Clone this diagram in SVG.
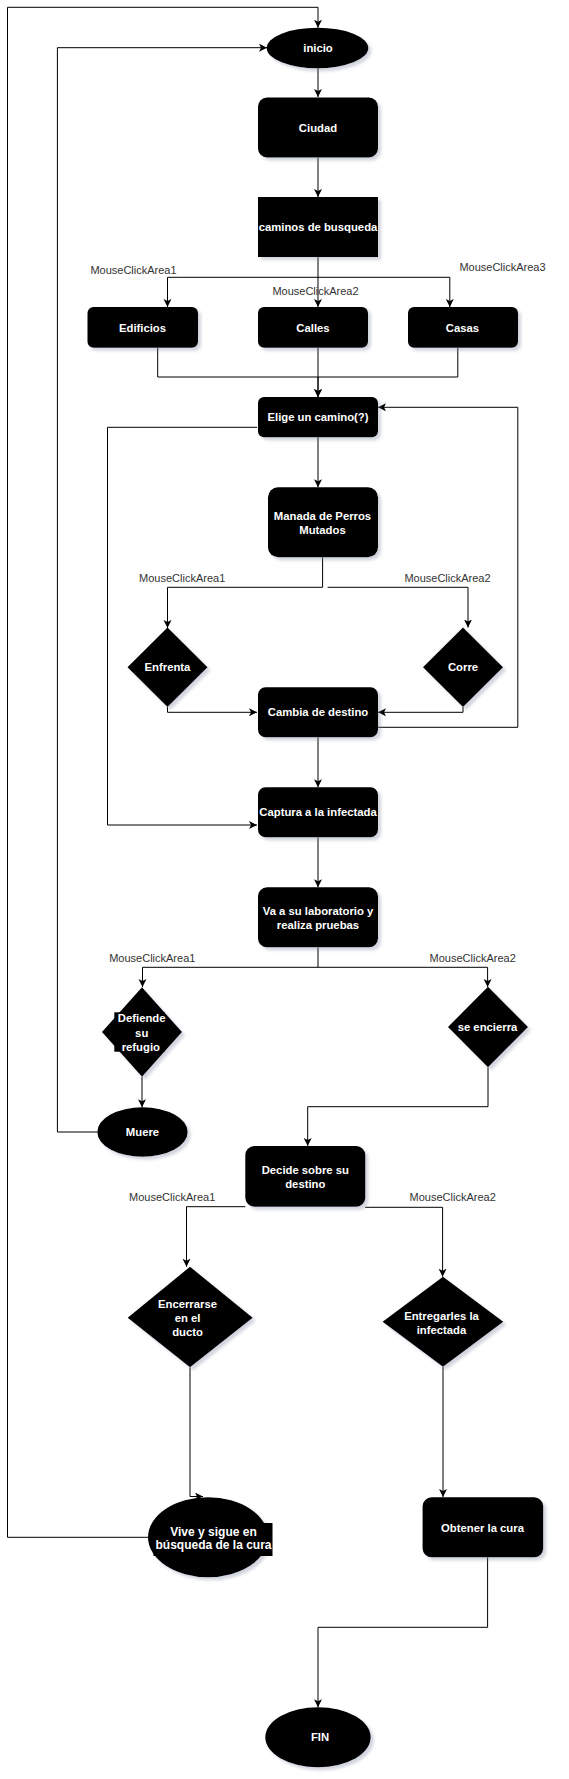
<svg xmlns="http://www.w3.org/2000/svg" width="569" height="1779" viewBox="0 0 569 1779">
<style>
.n{fill:#000;filter:url(#sh)}
.t{fill:#fff;font-family:"Liberation Sans",Arial,sans-serif;font-size:11.3px;font-weight:bold;text-anchor:middle;dominant-baseline:central}
.l{fill:#333;font-family:"Liberation Sans",Arial,sans-serif;font-size:11px;text-anchor:middle;dominant-baseline:central}
.c{fill:none;stroke:#000;stroke-width:1;marker-end:url(#arr)}
.c2{fill:none;stroke:#000;stroke-width:1}
</style>
<defs>
<filter id="sh" x="-20%" y="-20%" width="150%" height="150%">
<feDropShadow dx="3" dy="3" stdDeviation="1.5" flood-color="#7d86a0" flood-opacity="0.35"/>
</filter>
<marker id="arr" markerUnits="userSpaceOnUse" markerWidth="10" markerHeight="10" refX="8" refY="4" orient="auto">
<path d="M0,0 L8,4 L0,8 L2,4 z" fill="#000"/>
</marker>
</defs>
<rect width="569" height="1779" fill="#fff"/>
<g id="connectors">
<path class="c" d="M318,67.7 V97"/>
<path class="c" d="M318,157.5 V197"/>
<path class="c" d="M318,257 V307"/>
<path class="c" d="M318,277.3 H167.5 V307"/>
<path class="c" d="M318,277.3 H449.8 V307"/>
<path class="c" d="M157.7,347.7 V377 H318 V397"/>
<path class="c" d="M318,347.7 V397"/>
<path class="c2" d="M457.8,347.7 V377 H318"/>
<path class="c" d="M318,437 V487.3"/>
<path class="c" d="M257,427.3 H107.5 V825 H257"/>
<path class="c" d="M322.6,557.3 V587.3 H167.5 V628"/>
<path class="c" d="M327.6,587.3 H468 V627.5"/>
<path class="c" d="M167.5,707 V712.3 H257"/>
<path class="c" d="M463,707 V712.3 H378"/>
<path class="c" d="M378,727.3 H517.8 V407.3 H378"/>
<path class="c" d="M318,737.3 V787.3"/>
<path class="c" d="M318,837.3 V887.3"/>
<path class="c" d="M318,947.3 V967.3 H142.5 V987"/>
<path class="c" d="M318,967.3 H487.6 V987"/>
<path class="c" d="M142,1076.7 V1107.3"/>
<path class="c" d="M97.3,1132 H57.4 V47.7 H267"/>
<path class="c" d="M488,1067.3 V1106.7 H307.7 V1146"/>
<path class="c" d="M245.3,1206.7 H186.5 V1266.7"/>
<path class="c" d="M365.2,1207.3 H442.6 V1276.7"/>
<path class="c" d="M190,1367.3 V1496.5 H203"/>
<path class="c" d="M148,1537.3 H7.5 V7.3 H318 V27.7"/>
<path class="c" d="M443,1366.7 V1497"/>
<path class="c" d="M487.6,1557.3 V1627.3 H318 V1707.3"/>
</g>
<g id="labels">
<text class="l" x="133.5" y="270">MouseClickArea1</text>
<text class="l" x="315.5" y="290.7">MouseClickArea2</text>
<text class="l" x="502.5" y="267.3">MouseClickArea3</text>
<text class="l" x="182.2" y="577.7">MouseClickArea1</text>
<text class="l" x="447.5" y="577.7">MouseClickArea2</text>
<text class="l" x="152.3" y="957.7">MouseClickArea1</text>
<text class="l" x="472.7" y="957.7">MouseClickArea2</text>
<text class="l" x="172.2" y="1196.7">MouseClickArea1</text>
<text class="l" x="452.7" y="1196.7">MouseClickArea2</text>
</g>
<g id="inicio"><ellipse class="n" cx="317.5" cy="48" rx="50.8" ry="20.3"/><text class="t" x="318" y="47.7">inicio</text></g>
<g id="ciudad"><rect class="n" x="258" y="97.5" width="120" height="60" rx="9"/><text class="t" x="318" y="127.5">Ciudad</text></g>
<g id="caminos"><rect class="n" x="258" y="197" width="120" height="60"/><text class="t" x="318" y="227">caminos de busqueda</text></g>
<g id="edificios"><rect class="n" x="87.5" y="307" width="110.5" height="40.7" rx="6"/><text class="t" x="142.5" y="327.5">Edificios</text></g>
<g id="calles"><rect class="n" x="258" y="307" width="110" height="40.7" rx="6"/><text class="t" x="313" y="327.5">Calles</text></g>
<g id="casas"><rect class="n" x="408" y="307" width="110" height="40.7" rx="6"/><text class="t" x="462.5" y="327.5">Casas</text></g>
<g id="elige"><rect class="n" x="258" y="397" width="120" height="40.3" rx="6"/><text class="t" x="318" y="417">Elige un camino(?)</text></g>
<g id="manada"><rect class="n" x="268" y="487.3" width="110" height="70" rx="10"/><text class="t" x="322.5" y="515.7">Manada de Perros</text><text class="t" x="322.5" y="529.7">Mutados</text></g>
<g id="enfrenta"><path class="n" d="M167.5,627.5 L207.5,667.3 L167.5,707 L127.5,667.3 Z"/><text class="t" x="167.5" y="667.3">Enfrenta</text></g>
<g id="corre"><path class="n" d="M463,627.5 L503,667.3 L463,707 L423,667.3 Z"/><text class="t" x="463" y="667.3">Corre</text></g>
<g id="cambia"><rect class="n" x="258" y="687.3" width="120" height="50" rx="7.5"/><text class="t" x="318" y="712.3">Cambia de destino</text></g>
<g id="captura"><rect class="n" x="258" y="787.3" width="120" height="50" rx="7.5"/><text class="t" x="318" y="812.3">Captura a la infectada</text></g>
<g id="laboratorio"><rect class="n" x="258" y="887.3" width="120" height="60" rx="9"/><text class="t" x="318" y="910.7">Va a su laboratorio y</text><text class="t" x="318" y="924.7">realiza pruebas</text></g>
<g id="defiende"><path class="n" d="M142,987.3 L182,1032 L142,1076.7 L102,1032 Z"/><rect x="114.3" y="1012.3" width="50.7" height="39.4" fill="#000"/><text class="t" x="141.7" y="1018.3">Defiende</text><text class="t" x="141.7" y="1032.7">su</text><text class="t" x="140.8" y="1046.7">refugio</text></g>
<g id="encierra"><path class="n" d="M488,986.7 L528,1027 L488,1067.3 L448,1027 Z"/><text class="t" x="487.5" y="1027">se encierra</text></g>
<g id="muere"><ellipse class="n" cx="142.5" cy="1132" rx="45.2" ry="24.7"/><text class="t" x="142.5" y="1132">Muere</text></g>
<g id="decide"><rect class="n" x="245.3" y="1146" width="120" height="60.7" rx="9"/><text class="t" x="305.3" y="1169.7">Decide sobre su</text><text class="t" x="305.3" y="1183.7">destino</text></g>
<g id="encerrarse"><path class="n" d="M190,1266.7 L252.7,1317.7 L190,1367.3 L127.7,1317.7 Z"/><text class="t" x="187.5" y="1304.3">Encerrarse</text><text class="t" x="187.5" y="1318.3">en el</text><text class="t" x="187.5" y="1331.7">ducto</text></g>
<g id="entregarles"><path class="n" d="M443,1276.7 L503.3,1321.7 L443,1366.7 L382.6,1321.7 Z"/><text class="t" x="441.5" y="1315.7">Entregarles la</text><text class="t" x="441.5" y="1329.7">infectada</text></g>
<g id="vive"><ellipse class="n" cx="208" cy="1537.3" rx="60" ry="40"/><rect x="153.5" y="1523" width="119" height="33" fill="#000"/><text class="t" x="213.5" y="1531.7" style="font-size:12px">Vive y sigue en</text><text class="t" x="213.5" y="1545.3" style="font-size:12px">búsqueda de la cura</text></g>
<g id="obtener"><rect class="n" x="422.6" y="1497.3" width="120.6" height="60" rx="9"/><text class="t" x="482.5" y="1527.7">Obtener la cura</text></g>
<g id="fin"><ellipse class="n" cx="318" cy="1737.3" rx="52.7" ry="30"/><text class="t" x="320" y="1737.3">FIN</text></g>
</svg>
